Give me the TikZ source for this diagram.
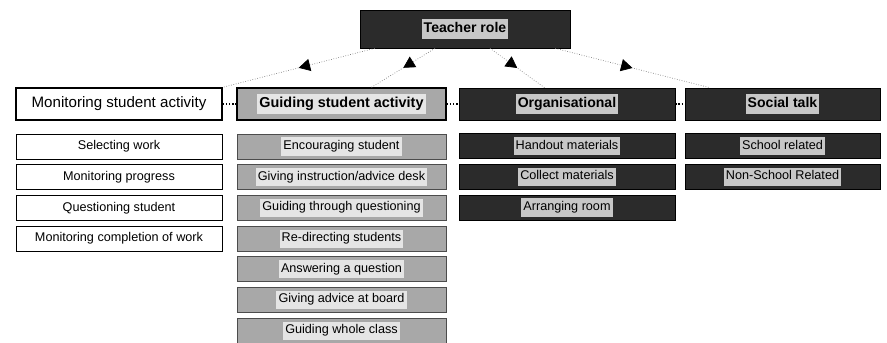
\documentclass[tikz,border=0pt]{standalone}
\usepackage{fontspec}
\setmainfont{Liberation Sans}
\usepackage{xcolor}
\usepackage{tikz}
\usetikzlibrary{arrows.meta, positioning, decorations.markings}
\definecolor{mydark}{rgb}{0.17, 0.17, 0.17}
\definecolor{mygrey}{rgb}{0.66, 0.66, 0.66}
\definecolor{mytagdark}{rgb}{0.78, 0.78, 0.78}
\definecolor{mytaglight}{rgb}{0.90, 0.90, 0.90}
\newcommand{\darktag}[1]{{\setlength{\fboxsep}{1.2pt}\colorbox{mytagdark}{\strut #1}}}
\newcommand{\greytag}[1]{{\setlength{\fboxsep}{1.2pt}\colorbox{mytaglight}{\strut #1}}}
\tikzstyle{rootbox} = [rectangle, minimum width=4.2cm, minimum height=0.76cm, draw=black, fill=mydark, font=\fontsize{8}{9}\selectfont\bfseries]
\tikzstyle{whitehead} = [rectangle, minimum width=4.12cm, minimum height=0.64cm, draw=black, thick, fill=white, font=\fontsize{8.6}{9}\selectfont]
\tikzstyle{greyhead} = [rectangle, minimum width=4.18cm, minimum height=0.64cm, draw=black, thick, fill=mygrey, font=\fontsize{8.2}{9}\selectfont\bfseries]
\tikzstyle{darkhead} = [rectangle, minimum width=4.32cm, minimum height=0.64cm, draw=black, fill=mydark, font=\fontsize{8}{9}\selectfont\bfseries]
\tikzstyle{whitesub} = [rectangle, minimum width=4.12cm, minimum height=0.5cm, inner sep=1pt, draw=black, fill=white, font=\fontsize{7.2}{8}\selectfont]
\tikzstyle{greysub} = [rectangle, minimum width=4.18cm, minimum height=0.5cm, inner sep=1pt, draw=black!70, fill=mygrey, font=\fontsize{7.2}{8}\selectfont]
\tikzstyle{darksub} = [rectangle, minimum width=4.32cm, minimum height=0.5cm, inner sep=1pt, draw=black, fill=mydark, font=\fontsize{7.2}{8}\selectfont]
\tikzstyle{midarrow} = [densely dotted, gray, postaction={decorate, decoration={markings, mark=at position 0.5 with {\arrow[black, solid]{Triangle[length=6.5pt, width=7pt]}}}}]
\tikzstyle{link} = [densely dotted, thick]

\begin{document}
\begin{tikzpicture}[x=0.02cm, y=0.02cm]
    \useasboundingbox (0,0) rectangle (887,-342);
    \node (top) [rootbox] at (465,-29) {\darktag{Teacher role}};
    \node (m) [whitehead] at (119,-104) {Monitoring student activity};
    \node (g) [greyhead] at (341.5,-104) {\greytag{Guiding student activity}};
    \node (o) [darkhead] at (567,-104) {\darktag{Organisational}};
    \node (s) [darkhead, minimum width=3.9cm] at (782.5,-104) {\darktag{Social talk}};
    \draw[link] (m) -- (g);
    \draw[link] (g) -- (o);
    \draw[link] (o) -- (s);
    \draw[midarrow] ([xshift=0.3cm]top.south west) -- (m.north east);
    \draw[midarrow] ([xshift=-0.6cm]top.south) -- ([xshift=0.6cm]g.north);
    \draw[midarrow] ([xshift=0.5cm]top.south) -- ([xshift=-0.45cm]o.north);
    \draw[midarrow] ([xshift=-0.3cm]top.south east) -- ([xshift=0.5cm]s.north west);
    % monitoring
    \node (m1) [whitesub, below=0.26cm of m] {Selecting work};
    \node (m2) [whitesub, below=0.1cm of m1] {Monitoring progress};
    \node (m3) [whitesub, below=0.1cm of m2] {Questioning student};
    \node (m4) [whitesub, below=0.1cm of m3] {Monitoring completion of work};
    % guiding
    \node (g1) [greysub, below=0.26cm of g] {\greytag{Encouraging student}};
    \node (g2) [greysub, below=0.1cm of g1] {\greytag{Giving instruction/advice desk}};
    \node (g3) [greysub, below=0.1cm of g2] {\greytag{Guiding through questioning}};
    \node (g4) [greysub, below=0.1cm of g3] {\greytag{Re-directing students}};
    \node (g5) [greysub, below=0.1cm of g4] {\greytag{Answering a question}};
    \node (g6) [greysub, below=0.1cm of g5] {\greytag{Giving advice at board}};
    \node (g7) [greysub, below=0.1cm of g6] {\greytag{Guiding whole class}};
    % organisational
    \node (o1) [darksub, below=0.26cm of o] {\darktag{Handout materials}};
    \node (o2) [darksub, below=0.1cm of o1] {\darktag{Collect materials}};
    \node (o3) [darksub, below=0.1cm of o2] {\darktag{Arranging room}};
    % social
    \node (s1) [darksub, minimum width=3.9cm, below=0.26cm of s] {\darktag{School related}};
    \node (s2) [darksub, minimum width=3.9cm, below=0.1cm of s1] {\darktag{Non-School Related}};
\end{tikzpicture}
\end{document}
